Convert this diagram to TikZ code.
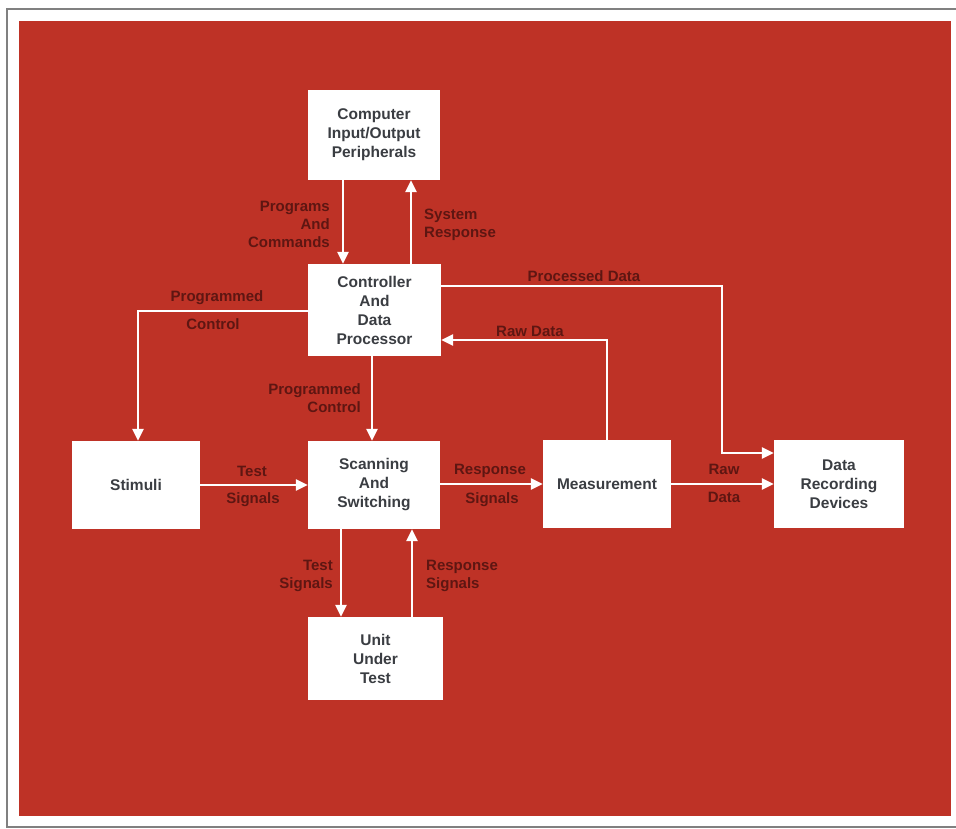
\documentclass[tikz,border=0pt]{standalone}
\usepackage{fontspec}
\setmainfont{Liberation Sans}
\usetikzlibrary{arrows.meta}
\definecolor{bgred}{HTML}{BE3226}
\definecolor{lblred}{HTML}{5E1612}
\definecolor{boxtext}{HTML}{3A3D42}
\begin{document}
\begin{tikzpicture}[x=1pt,y=-1pt,
  box/.style={draw=none,fill=white,text=boxtext,align=center,inner sep=0pt,
    font=\bfseries\fontsize{15.5}{19}\selectfont},
  lbl/.style={text=lblred,inner sep=0pt,font=\bfseries\fontsize{15}{18}\selectfont},
  arr/.style={draw=white,line width=2.4pt,-{Triangle[length=12pt,width=11pt]}}]
\useasboundingbox (0,0) rectangle (956,829);
\fill[white] (0,0) rectangle (956,829);
\draw[gray,line width=1.2pt] (956,9) -- (7,9) -- (7,827) -- (956,827);
\fill[bgred] (19,21) rectangle (951,816);

% boxes
\node[box,minimum width=132pt,minimum height=90pt] (cio) at (374,135) {Computer\\Input/Output\\Peripherals};
\node[box,minimum width=133pt,minimum height=92pt] (ctrl) at (374.5,310) {Controller\\And\\Data\\Processor};
\node[box,minimum width=128pt,minimum height=88pt] (stim) at (136,485) {Stimuli};
\node[box,minimum width=132pt,minimum height=88pt] (scan) at (374,485) {Scanning\\And\\Switching};
\node[box,minimum width=128pt,minimum height=88pt] (meas) at (607,484) {Measurement};
\node[box,minimum width=130pt,minimum height=88pt] (drd) at (839,484) {Data\\Recording\\Devices};
\node[box,minimum width=135pt,minimum height=83pt] (uut) at (375.5,658.5) {Unit\\Under\\Test};

% connectors
\draw[arr] ([xshift=-31pt]cio.south) -- ([xshift=-31pt]cio.south |- ctrl.north);
\draw[arr] ([xshift=37pt]cio.south |- ctrl.north) -- ([xshift=37pt]cio.south);
\draw[arr] ([yshift=-1pt]ctrl.west) -| ([xshift=2pt]stim.north);
\draw[arr] ([xshift=-2.5pt]ctrl.south) -- ([xshift=-2.5pt]ctrl.south |- scan.north);
\coordinate (pdc) at ([xshift=-52pt,yshift=31pt]drd.west);
\draw[arr] ([yshift=24pt]ctrl.east) -| (pdc) -- ([yshift=31pt]drd.west);
\draw[arr] (meas.north) |- ([yshift=-30pt]ctrl.east);
\draw[arr] (stim.east) -- (scan.west);
\draw[arr] (scan.east |- meas.west) -- (meas.west);
\draw[arr] (meas.east) -- (drd.west);
\draw[arr] ([xshift=-33pt]scan.south) -- ([xshift=-33pt]scan.south |- uut.north);
\draw[arr] ([xshift=38pt]scan.south |- uut.north) -- ([xshift=38pt]scan.south);

% labels
\node[lbl,align=right,anchor=east] (l1) at (330,224) {Programs\\And\\Commands};
\node[lbl,align=left,anchor=west] (l2) at (424,225) {System\\Response};
\node[lbl] (l3a) at (217,298) {Programmed};
\node[lbl] (l3b) at (213,324) {Control};
\node[lbl,align=right,anchor=east] (l4) at (361,398) {Programmed\\Control};
\node[lbl] (l5) at (584,276) {Processed Data};
\node[lbl] (l6) at (530,331) {Raw Data};
\node[lbl] (l7a) at (252,471) {Test};
\node[lbl] (l7b) at (253,500) {Signals};
\node[lbl] (l8a) at (490,471) {Response};
\node[lbl] (l8b) at (492,500) {Signals};
\node[lbl] (l9a) at (724,469) {Raw};
\node[lbl] (l9b) at (724,497) {Data};
\node[lbl,align=right,anchor=east] (l10) at (333,576) {Test\\Signals};
\node[lbl,align=left,anchor=west] (l11) at (426,576) {Response\\Signals};
\end{tikzpicture}
\end{document}
